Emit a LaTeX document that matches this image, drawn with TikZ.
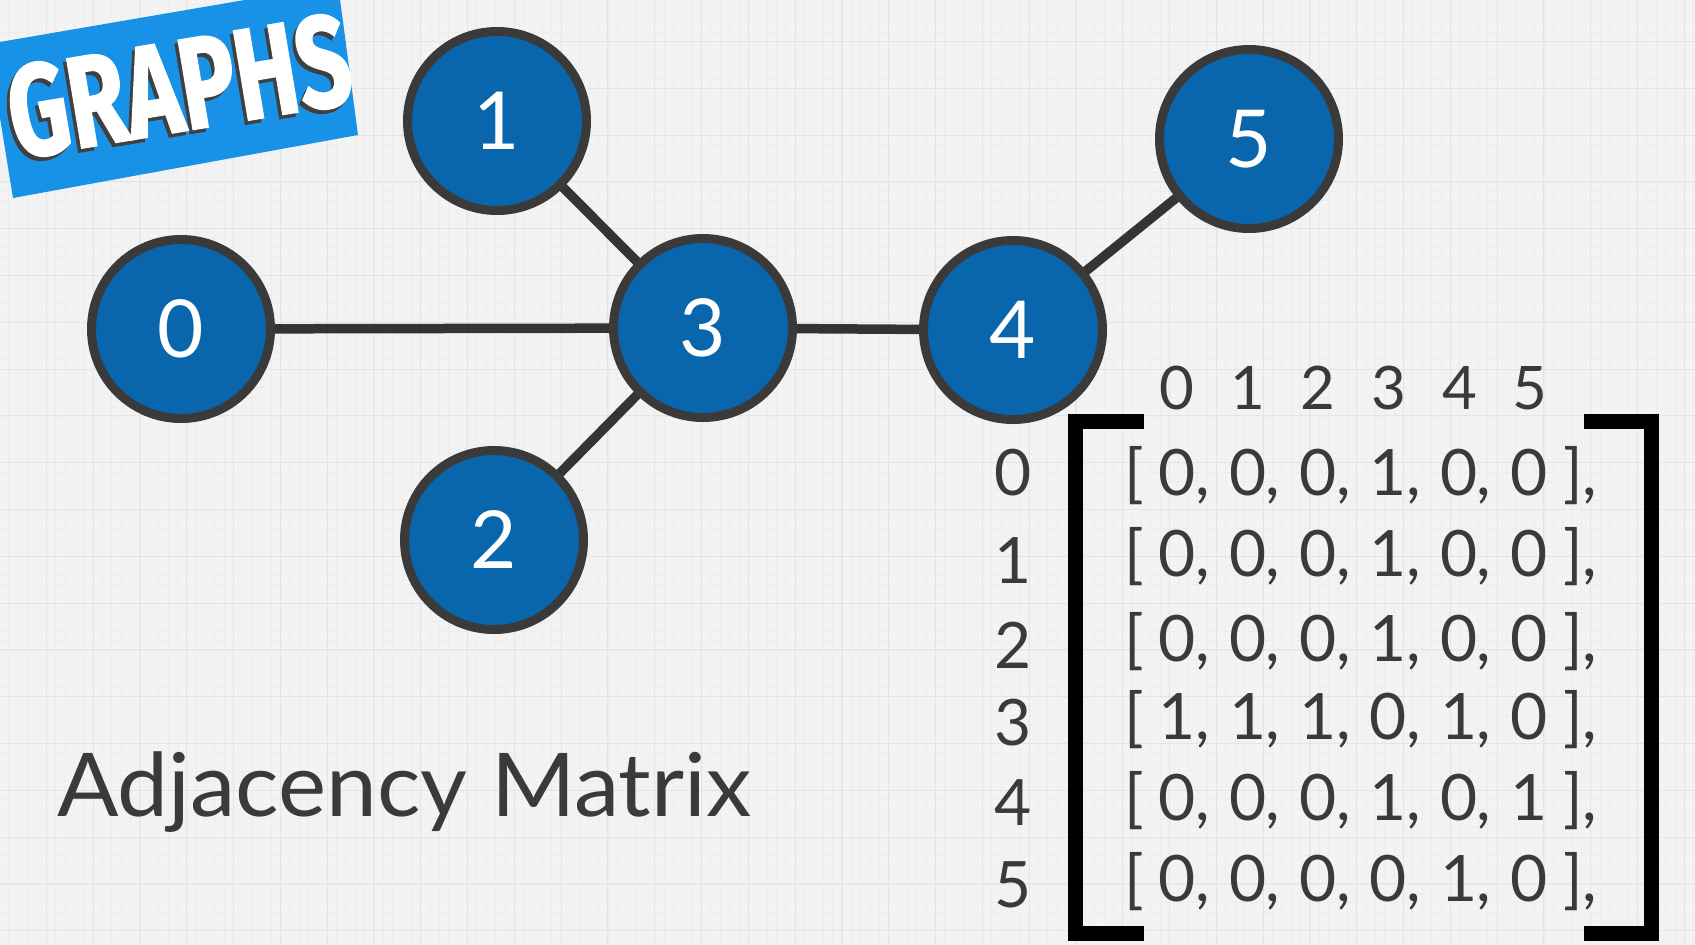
\documentclass[tikz,border=0pt]{standalone}
\usepackage{fontspec}
\setmainfont{Lato}
\newfontfamily\bannerfont{Fira Sans}[BoldFeatures={FakeBold=1.5}]
\definecolor{bgcol}{RGB}{243,243,243}
\definecolor{majgridcol}{RGB}{228,228,228}
\definecolor{mingridcol}{RGB}{237,237,237}
\definecolor{nodeblue}{RGB}{10,102,172}
\definecolor{nodeborder}{RGB}{58,58,58}
\definecolor{edgecol}{RGB}{52,52,52}
\definecolor{txtcol}{RGB}{58,58,58}
\definecolor{bannerblue}{RGB}{24,146,230}
\pgfdeclarelayer{bg}
\pgfdeclarelayer{edges}
\pgfsetlayers{bg,edges,main}
\newcommand{\mcell}[1]{\makebox[70.4pt][l]{\makebox[36pt]{#1},}}
\newcommand{\hcell}[1]{\makebox[70.6pt]{#1}}
\tikzset{
  vertex/.style={circle, draw=nodeborder, fill=nodeblue, line width=9pt,
    minimum size=179pt, inner sep=0pt, text=white,
    font=\fontsize{80}{80}\selectfont},
  edge/.style={draw=edgecol, line width=9.5pt},
  majgrid/.style={draw=majgridcol, line width=1pt},
  mingrid/.style={draw=mingridcol, line width=0.6pt},
  mtxrow/.style={text=txtcol, inner sep=0pt, anchor=base west, font=\fontsize{64}{64}\selectfont},
  mtxlab/.style={text=txtcol, inner sep=0pt, anchor=base, font=\fontsize{64}{64}\selectfont},
  hdr/.style={text=txtcol, inner sep=0pt, anchor=base west, font=\fontsize{60}{60}\selectfont},
  brk/.style={draw=black, line width=15pt, miter limit=10}
}
\begin{document}
\begin{tikzpicture}[x=1pt,y=-1pt]
\useasboundingbox (0,0) rectangle (1695,945);
\begin{pgfonlayer}{bg}
  \fill[bgcol] (0,0) rectangle (1695,945);
  \foreach \k in {0,...,181} \draw[mingrid] ({\k*9.36-0.6},0) -- ({\k*9.36-0.6},945);
  \foreach \k in {0,...,101} \draw[mingrid] (0,{\k*9.36-5.4}) -- (1695,{\k*9.36-5.4});
  \foreach \k in {0,...,37} \draw[majgrid] ({\k*46.8-0.6},0) -- ({\k*46.8-0.6},945);
  \foreach \k in {0,...,21} \draw[majgrid] (0,{\k*46.8-5.4}) -- (1695,{\k*46.8-5.4});
\end{pgfonlayer}

% banner
\begin{scope}
  \clip (0,0) rectangle (1695,945);
  \fill[bannerblue] (-12,44) -- (338,-16) -- (358,135) -- (13,198) -- cycle;
  \node[rotate=9.5, text=black!75, inner sep=0pt, font=\bannerfont\bfseries\fontsize{130}{130}\selectfont] (bannershadow) at (176,90) {\scalebox{0.72}[1]{GRAPHS}};
  \node[rotate=9.5, text=white, inner sep=0pt, font=\bannerfont\bfseries\fontsize{130}{130}\selectfont] (banner) at (179,86) {\scalebox{0.72}[1]{GRAPHS}};
\end{scope}

% graph
\node[vertex] (n0) at (181,329) {0};
\node[vertex] (n1) at (497,121) {1};
\node[vertex] (n2) at (494,540) {2};
\node[vertex] (n3) at (703,328) {3};
\node[vertex] (n4) at (1013,330) {4};
\node[vertex] (n5) at (1249,139) {5};
\begin{pgfonlayer}{edges}
  \draw[edge] (n0.center) -- (n3.center);
  \draw[edge] (n1.center) -- (n3.center);
  \draw[edge] (n2.center) -- (n3.center);
  \draw[edge] (n3.center) -- (n4.center);
  \draw[edge] (n4.center) -- (n5.center);
\end{pgfonlayer}

% title
\node[text=txtcol, inner sep=0pt, anchor=base west, font=\fontsize{88}{88}\selectfont] (title) at (57,816) {\scalebox{1.034}[1]{Adjacency Matrix}};

% matrix brackets
\coordinate (lbt) at (1144,421);
\coordinate (lbb) at (1144,933);
\coordinate (rbt) at (1584,421);
\coordinate (rbb) at (1584,933);
\draw[brk] (lbt) -- (1075,421) -- (1075,933) -- (lbb);
\draw[brk] (rbt) -- (1651,421) -- (1651,933) -- (rbb);

% column headers
\node[hdr] (hdrrow) at (1141.7,409) {\hcell{0}\hcell{1}\hcell{2}\hcell{3}\hcell{4}\hcell{5}};

% row labels
\foreach \y [count=\i from 0] in {495,583,668,745,825,907}
  \node[mtxlab] (r\i) at (1013,\y) {\i};

% rows
\foreach \y/\a/\b/\c/\d/\e/\f [count=\r from 0] in {495/0/0/0/1/0/0, 576/0/0/0/1/0/0, 661/0/0/0/1/0/0, 739/1/1/1/0/1/0, 820/0/0/0/1/0/1, 901/0/0/0/0/1/0}
  \node[mtxrow] (row\r) at (1124,\y) {\makebox[35pt][l]{[}\mcell{\a}\mcell{\b}\mcell{\c}\mcell{\d}\mcell{\e}\makebox[36pt]{\f}\hspace{16pt}],};
\end{tikzpicture}
\end{document}
